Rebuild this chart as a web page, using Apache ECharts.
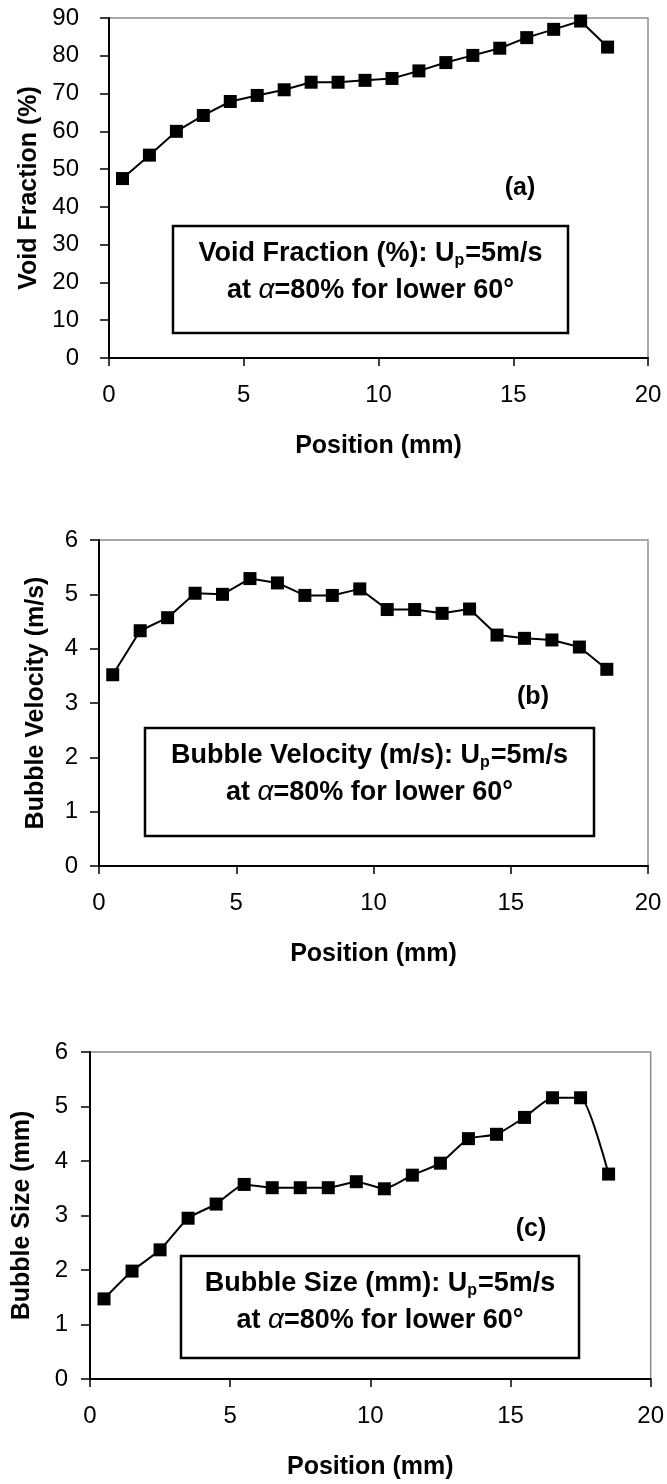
<!DOCTYPE html>
<html>
<head>
<meta charset="utf-8">
<title>Void fraction, bubble velocity and bubble size profiles</title>
<script src="https://cdn.jsdelivr.net/npm/echarts@6/dist/echarts.min.js"></script>
<style>
  html, body { margin: 0; padding: 0; background: #fff; }
  #chart { width: 667px; height: 1484px; }
</style>
</head>
<body>
<div id="chart"></div>
<script>
// Measurement positions across the section (mm)
const positions = [0.5, 1.5, 2.5, 3.5, 4.5, 5.5, 6.5, 7.5, 8.5, 9.5, 10.5, 11.5, 12.5, 13.5, 14.5, 15.5, 16.5, 17.5, 18.5];

// Profiles measured at each position
const voidFraction = [47.5, 53.7, 60.0, 64.2, 67.9, 69.5, 71.0, 73.0, 73.0, 73.5, 74.0, 76.0, 78.2, 80.1, 82.0, 84.8, 87.0, 89.2, 82.3];
const bubbleVelocity = [3.52, 4.33, 4.57, 5.02, 5.00, 5.29, 5.21, 4.98, 4.98, 5.10, 4.72, 4.72, 4.65, 4.73, 4.25, 4.19, 4.16, 4.03, 3.62];
const bubbleSize = [1.47, 1.98, 2.37, 2.95, 3.21, 3.57, 3.51, 3.51, 3.51, 3.62, 3.49, 3.74, 3.96, 4.41, 4.49, 4.80, 5.16, 5.16, 3.76];

// Axis texts
const xTitle = 'Position (mm)';
const yTitles = ['Void Fraction (%)', 'Bubble Velocity (m/s)', 'Bubble Size (mm)'];
const yMax = [90, 6, 6];
const yStep = [10, 1, 1];
const xMax = 20;
const xStep = 5;

// Panel tags and boxed captions
const panelTags = ['(a)', '(b)', '(c)'];
const captionQuantities = ['Void Fraction (%)', 'Bubble Velocity (m/s)', 'Bubble Size (mm)'];
const captionSpeed = '=5m/s';
const captionCondition = '=80% for lower 60°';

const seriesData = [voidFraction, bubbleVelocity, bubbleSize];

const SANS = '"Liberation Sans", Arial, Helvetica, sans-serif';

// Layout of the three stacked panels (pixels)
const panels = [
  { grid: { left: 109, top: 18, width: 539, height: 340 }, yNameGap: 64, yLabelMargin: 30,
    box: { x: 173, y: 226, w: 395, h: 107 }, tag: { x: 520, y: 188 }, smooth: false },
  { grid: { left: 99, top: 540, width: 549, height: 326 }, yNameGap: 50, yLabelMargin: 21,
    box: { x: 145, y: 728, w: 449, h: 108 }, tag: { x: 533, y: 697 }, smooth: false },
  { grid: { left: 90, top: 1052, width: 561, height: 327 }, yNameGap: 55, yLabelMargin: 22,
    box: { x: 181, y: 1256, w: 398, h: 102 }, tag: { x: 531, y: 1229 }, smooth: 0.18 }
];

const axisLineStyle = { color: '#000', width: 2 };
const tickStyle = { color: '#000', width: 1.5 };

const grids = panels.map(p => Object.assign({
  show: true, borderColor: '#8c8c8c', borderWidth: 1.5, backgroundColor: '#fff'
}, p.grid));

const xAxes = panels.map((p, i) => ({
  type: 'value', gridIndex: i, min: 0, max: xMax, interval: xStep,
  name: xTitle, nameLocation: 'middle', nameGap: 76,
  nameTextStyle: { fontFamily: SANS, fontWeight: 'bold', fontSize: 25, color: '#000' },
  axisLine: { onZero: false, lineStyle: axisLineStyle },
  axisTick: { show: true, length: 8, lineStyle: tickStyle },
  axisLabel: { margin: 25, fontFamily: SANS, fontSize: 24, color: '#000' },
  splitLine: { show: false }
}));

const yAxes = panels.map((p, i) => ({
  type: 'value', gridIndex: i, min: 0, max: yMax[i], interval: yStep[i],
  name: yTitles[i], nameLocation: 'middle', nameGap: p.yNameGap,
  nameTextStyle: { fontFamily: SANS, fontWeight: 'bold', fontSize: 25, color: '#000' },
  axisLine: { onZero: false, lineStyle: axisLineStyle },
  axisTick: { show: true, length: 9, lineStyle: tickStyle },
  axisLabel: { margin: p.yLabelMargin, fontFamily: SANS, fontSize: 24, color: '#000' },
  splitLine: { show: false }
}));

const series = panels.map((p, i) => ({
  type: 'line', xAxisIndex: i, yAxisIndex: i,
  data: positions.map((x, k) => [x, seriesData[i][k]]),
  smooth: p.smooth,
  symbol: 'rect', symbolSize: 13,
  itemStyle: { color: '#000' },
  lineStyle: { color: '#000', width: 2 },
  z: 3
}));

const captionRich = {
  b: { fontFamily: SANS, fontWeight: 'bold', fontSize: 27, color: '#000', lineHeight: 37 },
  s: { fontFamily: SANS, fontWeight: 'bold', fontSize: 16, color: '#000', padding: [14, 1, 0, 0], lineHeight: 37 },
  g: { fontFamily: SANS, fontStyle: 'italic', fontWeight: 'normal', fontSize: 28, color: '#000', lineHeight: 37 }
};

const graphics = [];
panels.forEach((p, i) => {
  const b = p.box;
  graphics.push({
    type: 'rect', z: 10,
    shape: { x: b.x, y: b.y, width: b.w, height: b.h },
    style: { fill: '#fff', stroke: '#000', lineWidth: 2.5 }
  });
  graphics.push({
    type: 'text', z: 11,
    x: b.x + b.w / 2, y: b.y + 46,
    style: {
      text: '{b|' + captionQuantities[i] + ': U}{s|p}{b|' + captionSpeed + '}\n{b|at }{g|α}{b|' + captionCondition + '}',
      rich: captionRich,
      align: 'center', verticalAlign: 'middle'
    }
  });
  graphics.push({
    type: 'text', z: 11,
    x: p.tag.x, y: p.tag.y,
    style: {
      text: panelTags[i], fontFamily: SANS, fontWeight: 'bold', fontSize: 25, fill: '#000',
      align: 'center', verticalAlign: 'middle'
    }
  });
});

const chart = echarts.init(document.getElementById('chart'), null, { renderer: 'canvas' });
chart.setOption({
  animation: false,
  backgroundColor: '#fff',
  grid: grids,
  xAxis: xAxes,
  yAxis: yAxes,
  series: series,
  graphic: graphics
});
</script>
</body>
</html>
